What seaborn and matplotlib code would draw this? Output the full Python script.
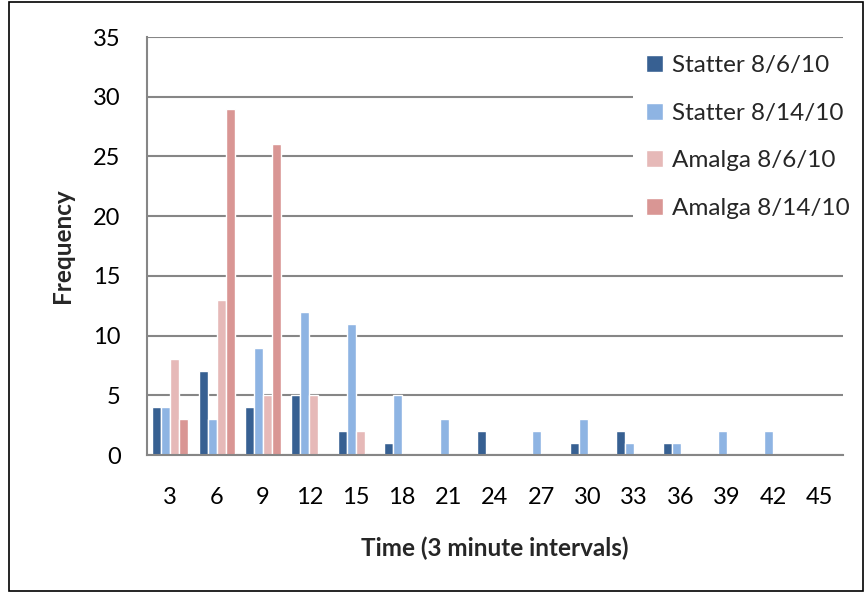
import matplotlib
matplotlib.use("Agg")
import matplotlib.pyplot as plt
import seaborn as sns
import pandas as pd
from matplotlib.patches import Rectangle

categories = [3, 6, 9, 12, 15, 18, 21, 24, 27, 30, 33, 36, 39, 42, 45]
statter_0806 = [4, 7, 4, 5, 2, 1, 0, 2, 0, 1, 2, 1, 0, 0, 0]
statter_0814 = [4, 3, 9, 12, 11, 5, 3, 0, 2, 3, 1, 1, 2, 2, 0]
amalga_0806 = [8, 13, 5, 5, 2, 0, 0, 0, 0, 0, 0, 0, 0, 0, 0]
amalga_0814 = [3, 29, 26, 0, 0, 0, 0, 0, 0, 0, 0, 0, 0, 0, 0]
series_names = ["Statter 8/6/10", "Statter 8/14/10", "Amalga 8/6/10", "Amalga 8/14/10"]
colors = ["#376092", "#8EB4E3", "#E6B9B8", "#D99694"]

rows = []
for name, vals in zip(series_names, [statter_0806, statter_0814, amalga_0806, amalga_0814]):
    for c, v in zip(categories, vals):
        rows.append({"Time": str(c), "Frequency": v, "Series": name})
df = pd.DataFrame(rows)

sns.set_style("white")
plt.rcParams["font.family"] = ["Lato", "DejaVu Sans"]

fig = plt.figure(figsize=(8.65, 5.92), dpi=100)
ax = fig.add_axes([147 / 865, 1 - 455 / 592, (843 - 147) / 865, (455 - 37) / 592])

sns.barplot(data=df, x="Time", y="Frequency", hue="Series", order=[str(c) for c in categories],
            hue_order=series_names, palette=colors, width=0.78, gap=0, ax=ax,
            saturation=1, errorbar=None, legend=True)

ax.set_xlim(-0.5, len(categories) - 0.5)
ax.set_ylim(0, 35)
ax.set_yticks(range(0, 36, 5))
ax.yaxis.grid(True, color="#868686", linewidth=1.5)
ax.set_axisbelow(True)
for s in ["top", "right"]:
    ax.spines[s].set_visible(False)
for s in ["left", "bottom"]:
    ax.spines[s].set_color("#868686")
    ax.spines[s].set_linewidth(1.5)

ax.set_xticks(range(len(categories)))
ax.set_xticklabels([str(c) for c in categories])
ax.set_xticks([i - 0.5 for i in range(len(categories) + 1)], minor=True)
ax.tick_params(axis="x", which="major", length=0, pad=23, labelsize=17, colors="black")
ax.tick_params(axis="x", which="minor", length=4.5, width=1.5, color="#868686", direction="out")
ax.tick_params(axis="y", which="major", length=4, width=1.5, color="#868686", direction="out",
               pad=15, labelsize=17, labelcolor="black")

ax.set_xlabel("Time (3 minute intervals)", fontsize=17.5, fontweight="bold", labelpad=20.5)
ax.set_ylabel("Frequency", fontsize=17.5, fontweight="bold", labelpad=14)

handles, labels = ax.get_legend_handles_labels()
leg = ax.legend(handles, labels, loc="upper left", bbox_to_anchor=(633 / 865, 1 - 42 / 592),
                bbox_transform=fig.transFigure, frameon=True,
                facecolor="white", edgecolor="white", framealpha=1, fontsize=17.5,
                handlelength=0.7, handleheight=0.7, handletextpad=0.35,
                labelspacing=1.09, borderpad=0.55, borderaxespad=0)
leg.get_frame().set_linewidth(0)

fig.patches.append(Rectangle((9 / 865, 1 / 592), 1 - 11 / 865, 1 - 3 / 592, transform=fig.transFigure,
                             fill=False, edgecolor="black", linewidth=1.2))

fig.savefig("out.png", dpi=100)
